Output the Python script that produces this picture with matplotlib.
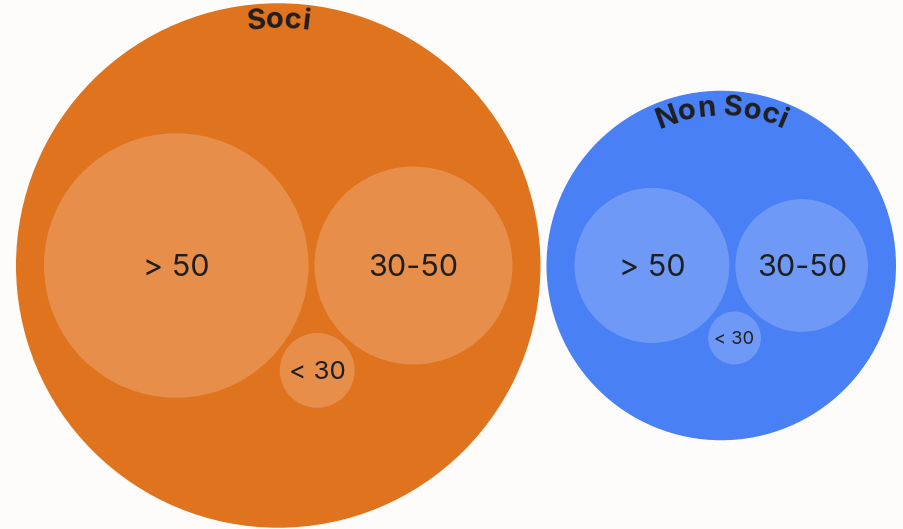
import numpy as np
import matplotlib.pyplot as plt
from matplotlib.patches import Circle
from matplotlib import font_manager, ft2font
from matplotlib.font_manager import FontProperties

# members by age band
groups = ["Soci", "Non Soci"]
age_bands = ["> 50", "30-50", "< 30"]
soci_counts = [175, 98, 14]
non_soci_counts = [60, 44, 7]

group_colors = ["#E0731E", "#4A80F5"]
text_color = "#1f1f1f"
bg_color = "#FDFCFB"

W, H, DPI = 904, 529, 100
PAD = 3          # gap around each circle
GROUP_PAD = 28   # room between inner circles and group border
MARGIN_L, MARGIN_R = 16, 8
FONT = "Inter"


def enclose_pair(c1, r1, c2, r2):
    d = np.hypot(*(c2 - c1))
    if d + r2 <= r1:
        return c1, r1
    if d + r1 <= r2:
        return c2, r2
    r = (d + r1 + r2) / 2
    u = (c2 - c1) / d
    return c1 + u * (r - r1), r


def pack_group(values, k):
    """Place up to three circles tangent to each other, return centres
    relative to the enclosing circle and the group radius."""
    radii = k * np.sqrt(np.array(values, dtype=float))
    rr = radii + PAD
    centres = [np.array([0.0, 0.0]), np.array([rr[0] + rr[1], 0.0])]
    if len(rr) > 2:
        D = rr[0] + rr[1]
        d0, d1 = rr[0] + rr[2], rr[1] + rr[2]
        x = (d0 ** 2 - d1 ** 2 + D ** 2) / (2 * D)
        y = np.sqrt(max(d0 ** 2 - x ** 2, 0))
        centres.append(np.array([x, y]))
    centres = np.array(centres)

    # smallest pair circle that holds all of them
    best = None
    for i in range(len(centres)):
        for j in range(i + 1, len(centres)):
            c, r = enclose_pair(centres[i], radii[i], centres[j], radii[j])
            ok = all(np.hypot(*(centres[m] - c)) + radii[m] <= r + 1e-6
                     for m in range(len(centres)))
            if ok and (best is None or r < best[1]):
                best = (c, r)
    c, r = best
    return centres - c, radii, r + GROUP_PAD


def layout(k):
    packs = [pack_group(v, k) for v in (soci_counts, non_soci_counts)]
    big = [p[2] for p in packs]
    span = 2 * big[0] + 2 * big[1] + 2 * PAD
    return packs, span


# scale so the two groups fill the width
lo, hi = 0.1, 50.0
for _ in range(60):
    mid = (lo + hi) / 2
    if layout(mid)[1] > W - MARGIN_L - MARGIN_R:
        hi = mid
    else:
        lo = mid
packs, span = layout(lo)

R0, R1 = packs[0][2], packs[1][2]
cy = H / 2 + 1
group_centres = [np.array([MARGIN_L + R0, cy]),
                 np.array([MARGIN_L + 2 * R0 + 2 * PAD + R1, cy])]


def curved_text(ax, text, centre, radius, size):
    prop = FontProperties(family=FONT, weight="bold", size=size)
    font = ft2font.FT2Font(font_manager.findfont(prop))
    font.set_size(size, DPI)
    adv = [font.load_char(ord(ch)).linearHoriAdvance / 65536 for ch in text]
    total = sum(adv)
    pos = 0.0
    for ch, a in zip(text, adv):
        s = pos + a / 2 - total / 2
        phi = s / radius
        x = centre[0] + radius * np.sin(phi)
        y = centre[1] - radius * np.cos(phi)
        ax.text(x, y, ch, fontproperties=prop, color=text_color,
                ha="center", va="baseline", rotation=-np.degrees(phi),
                rotation_mode="anchor")
        pos += a


fig = plt.figure(figsize=(W / DPI, H / DPI), dpi=DPI, facecolor=bg_color)
ax = fig.add_axes([0, 0, 1, 1])
ax.set_xlim(0, W)
ax.set_ylim(H, 0)
ax.set_aspect("equal")
ax.axis("off")

for name, colour, centre, (offsets, radii, R) in zip(groups, group_colors, group_centres, packs):
    ax.add_patch(Circle(centre, R, facecolor=colour, edgecolor="none"))
    for label, off, r in zip(age_bands, offsets, radii):
        c = centre + off
        ax.add_patch(Circle(c, r, facecolor="white", alpha=0.2, edgecolor="none"))
        fs = min(22, 0.5 * r)
        ax.text(c[0], c[1], label, fontsize=fs, family=FONT, color=text_color,
                ha="center", va="center_baseline")
    curved_text(ax, name, centre, R - 25, 21)

fig.savefig("out.png", dpi=DPI, facecolor=bg_color)
